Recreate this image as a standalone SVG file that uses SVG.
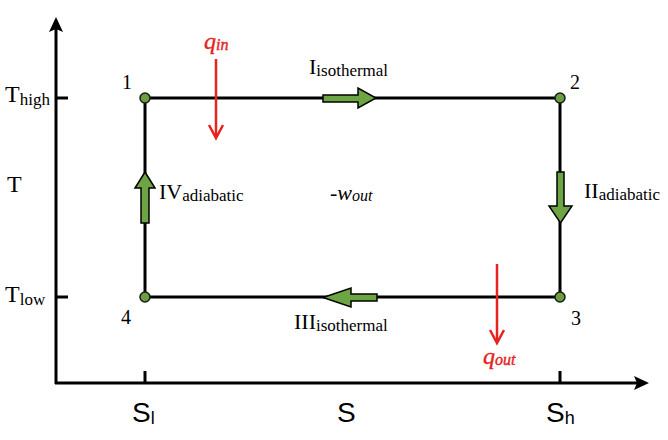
<svg xmlns="http://www.w3.org/2000/svg" width="668" height="440" viewBox="0 0 668 440">
<style>
.ax{stroke:#000;stroke-width:3;fill:none}
.edge{stroke:#000;stroke-width:3;fill:none}
.pt{fill:#6a9e3e;stroke:#1a1a1a;stroke-width:1.5}
.ga{fill:#6ea544;stroke:#000;stroke-width:1.5;stroke-linejoin:miter}
.red{stroke:#e5231f;stroke-width:2.5;fill:none}
.t{font-family:"Liberation Serif","Times New Roman",serif;fill:#000}
.big{font-size:22px}
.sub{font-size:17px}
.num{font-family:"Liberation Serif","Times New Roman",serif;font-size:20px;fill:#000}
.q{font-family:"Liberation Serif","Times New Roman",serif;font-style:italic;fill:#e5231f;stroke:#e5231f;stroke-width:0.4}
.s{font-family:"Liberation Sans",Arial,sans-serif;fill:#000}
</style>
<g id="axes">
<line class="ax" x1="56" y1="384" x2="56" y2="26"/>
<polygon points="56,17 63,32 56,29 49,32" fill="#000"/>
<line class="ax" x1="55" y1="383" x2="640" y2="383"/>
<polygon points="649,383 634,376 637,383 634,390" fill="#000"/>
<line class="ax" x1="56" y1="98" x2="68" y2="98"/>
<line class="ax" x1="56" y1="297" x2="68" y2="297"/>
<line class="ax" x1="145" y1="371" x2="145" y2="383"/>
<line class="ax" x1="560" y1="371" x2="560" y2="383"/>
</g>
<g id="connectors">
<line class="edge" x1="145" y1="98" x2="560" y2="98"/>
<line class="edge" x1="560" y1="98" x2="560" y2="297"/>
<line class="edge" x1="560" y1="297" x2="145" y2="297"/>
<line class="edge" x1="145" y1="297" x2="145" y2="98"/>
<polygon class="ga" points="323,95 358,95 358,88 376,98 358,108 358,102 323,102"/>
<polygon class="ga" points="557,172 564,172 564,206 572,206 560.5,223 549,206 557,206"/>
<polygon class="ga" points="377,294 377,301 351,301 351,307 323,297.5 351,288 351,294"/>
<polygon class="ga" points="141,223 149,223 149,188 155,188 145,172 135,188 141,188"/>
</g>
<g id="p1"><circle class="pt" cx="145" cy="98" r="5"/><text class="num" x="122" y="89">1</text></g>
<g id="p2"><circle class="pt" cx="560" cy="98" r="5"/><text class="num" x="570" y="89">2</text></g>
<g id="p3"><circle class="pt" cx="560" cy="297" r="5"/><text class="num" x="571" y="325">3</text></g>
<g id="p4"><circle class="pt" cx="145" cy="297" r="5"/><text class="num" x="121" y="324">4</text></g>
<g id="labels">
<text class="t" x="5" y="102"><tspan font-size="24">T</tspan><tspan class="sub" dy="3">high</tspan></text>
<text class="t" font-size="24" x="7" y="192">T</text>
<text class="t" x="5" y="302"><tspan font-size="24">T</tspan><tspan class="sub" dy="3">low</tspan></text>
<text class="t" x="309" y="74"><tspan class="big">I</tspan><tspan class="sub" dy="2">isothermal</tspan></text>
<text class="t" x="584" y="198"><tspan class="big">II</tspan><tspan class="sub" dy="2">adiabatic</tspan></text>
<text class="t" x="159" y="199"><tspan class="big">IV</tspan><tspan class="sub" dy="2">adiabatic</tspan></text>
<text class="t" x="294" y="329"><tspan class="big">III</tspan><tspan class="sub" dy="2">isothermal</tspan></text>
<text class="t" x="330" y="200" font-size="22">-<tspan font-style="italic">w</tspan><tspan font-style="italic" font-size="16" dy="1">out</tspan></text>
</g>
<g id="qin">
<text class="q" x="204" y="49" font-size="24">q<tspan font-size="16" dy="1">in</tspan></text>
<line class="red" x1="216" y1="59" x2="216" y2="137"/>
<polyline class="red" points="209,125 216,138 223,125"/>
</g>
<g id="qout">
<line class="red" x1="497" y1="264" x2="497" y2="342"/>
<polyline class="red" points="490,330 497,343 504,330"/>
<text class="q" x="483" y="364" font-size="24">q<tspan font-size="16" dy="1">out</tspan></text>
</g>
<g id="slabels">
<text class="s" x="132" y="422" font-size="28">S<tspan font-size="18" dy="2">l</tspan></text>
<text class="s" x="337" y="422" font-size="28">S</text>
<text class="s" x="546" y="422" font-size="28">S<tspan font-size="18" dy="2">h</tspan></text>
</g>
</svg>
